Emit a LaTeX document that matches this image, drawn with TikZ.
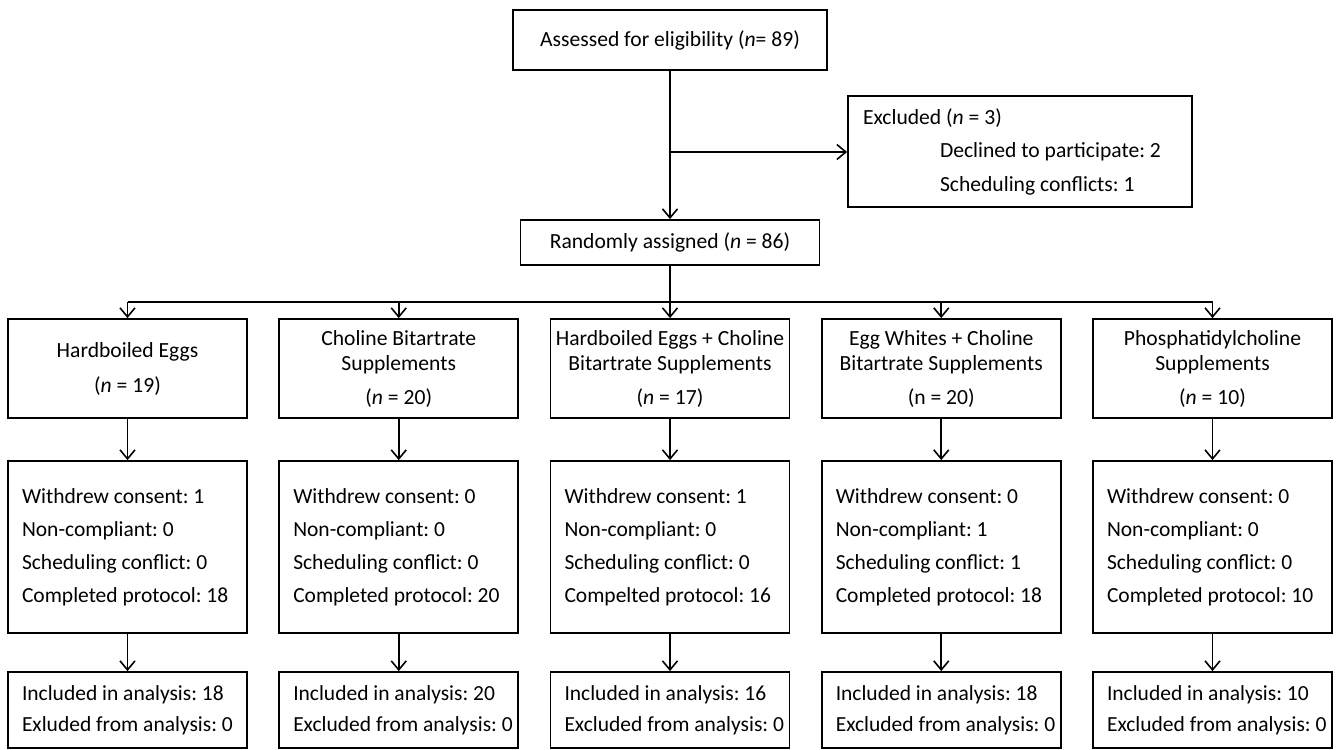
\documentclass[tikz,border=0pt]{standalone}
\usepackage{fontspec}
\setmainfont{Carlito}
\frenchspacing
\usetikzlibrary{arrows.meta}
\newcommand{\exline}[1]{\makebox[314pt][l]{#1}}
\newcommand{\lsline}[1]{\makebox[211pt][l]{#1}}
\begin{document}
\begin{tikzpicture}[x=1pt,y=-1pt,
  box/.style={draw=black, line width=1.8pt, fill=white, inner sep=0pt,
    font=\frenchspacing\fontsize{21.6}{25}\selectfont},
  topbox/.style={box, minimum width=314pt, minimum height=60pt, align=center},
  randbox/.style={box, minimum width=299pt, minimum height=45pt, align=center},
  armbox/.style={box, minimum width=239pt, minimum height=99pt, align=center},
  listbox/.style={box, inner xsep=14pt, align=left, minimum height=172pt,
    font=\frenchspacing\fontsize{21.5}{33}\selectfont},
  exbox/.style={box, inner xsep=15pt, minimum height=111pt, align=left,
    font=\frenchspacing\fontsize{21.6}{33.5}\selectfont},
  resbox/.style={box, inner xsep=14pt, align=left, minimum height=76pt,
    font=\frenchspacing\fontsize{21.5}{31}\selectfont},
  conn/.style={draw=black, line width=1.6pt, -{Straight Barb[length=9pt,width=15pt,line width=1.6pt]}},
  plain/.style={draw=black, line width=1.6pt}
]
\useasboundingbox (0,0) rectangle (1342,750);
\fill[white] (0,0) rectangle (1342,750);

\node[topbox] (assess) at (670,40) {Assessed for eligibility (\textit{n}= 89)};
\node[exbox] (excl) at (1020,151.5) {\exline{Excluded (\textit{n} = 3)}\\
\exline{\hspace*{77pt}Declined to participate: 2}\\
\exline{\hspace*{77pt}Scheduling conflicts: 1}};
\node[randbox] (rand) at (670,242.5) {Randomly assigned (\textit{n} = 86)};

\coordinate (split) at (670,152);
\draw[conn] (assess.south) -- (rand.north);
\draw[conn] (split) -- (excl.west |- split);

% arm boxes
\node[armbox] (a1) at (127.5,368.5) {Hardboiled Eggs\\[10pt](\textit{n} = 19)};
\node[armbox] (a2) at (398.75,368.5) {Choline Bitartrate\\Supplements\\[9pt](\textit{n} = 20)};
\node[armbox] (a3) at (670,368.5) {Hardboiled Eggs + Choline\\Bitartrate Supplements\\[9pt](\textit{n} = 17)};
\node[armbox] (a4) at (941.25,368.5) {Egg Whites + Choline\\Bitartrate Supplements\\[9pt](n = 20)};
\node[armbox] (a5) at (1212.5,368.5) {Phosphatidylcholine\\Supplements\\[9pt](\textit{n} = 10)};

\coordinate (b1) at (127.5,302);
\coordinate (b2) at (398.75,302);
\coordinate (b4) at (941.25,302);
\coordinate (b5) at (1212.5,302);
\draw[plain] (b1) -- (b5);
\draw[conn] (rand.south) -- (a3.north);
\foreach \i in {1,2,4,5} \draw[conn] (b\i) -- (a\i.north);

% status boxes
\node[listbox] (s1) at (127.5,547) {\lsline{Withdrew consent: 1}\\\lsline{Non-compliant: 0}\\\lsline{Scheduling conflict: 0}\\\lsline{Completed protocol: 18}};
\node[listbox] (s2) at (398.75,547) {\lsline{Withdrew consent: 0}\\\lsline{Non-compliant: 0}\\\lsline{Scheduling conflict: 0}\\\lsline{Completed protocol: 20}};
\node[listbox] (s3) at (670,547) {\lsline{Withdrew consent: 1}\\\lsline{Non-compliant: 0}\\\lsline{Scheduling conflict: 0}\\\lsline{Compelted protocol: 16}};
\node[listbox] (s4) at (941.25,547) {\lsline{Withdrew consent: 0}\\\lsline{Non-compliant: 1}\\\lsline{Scheduling conflict: 1}\\\lsline{Completed protocol: 18}};
\node[listbox] (s5) at (1212.5,547) {\lsline{Withdrew consent: 0}\\\lsline{Non-compliant: 0}\\\lsline{Scheduling conflict: 0}\\\lsline{Completed protocol: 10}};

\foreach \i in {1,...,5} \draw[conn] (a\i.south) -- (s\i.north);

% analysis boxes
\node[resbox] (r1) at (127.5,710) {\lsline{Included in analysis: 18}\\\lsline{Exluded from analysis: 0}};
\node[resbox] (r2) at (398.75,710) {\lsline{Included in analysis: 20}\\\lsline{Excluded from analysis: 0}};
\node[resbox] (r3) at (670,710) {\lsline{Included in analysis: 16}\\\lsline{Excluded from analysis: 0}};
\node[resbox] (r4) at (941.25,710) {\lsline{Included in analysis: 18}\\\lsline{Excluded from analysis: 0}};
\node[resbox] (r5) at (1212.5,710) {\lsline{Included in analysis: 10}\\\lsline{Excluded from analysis: 0}};

\foreach \i in {1,...,5} \draw[conn] (s\i.south) -- (r\i.north);
\end{tikzpicture}
\end{document}
